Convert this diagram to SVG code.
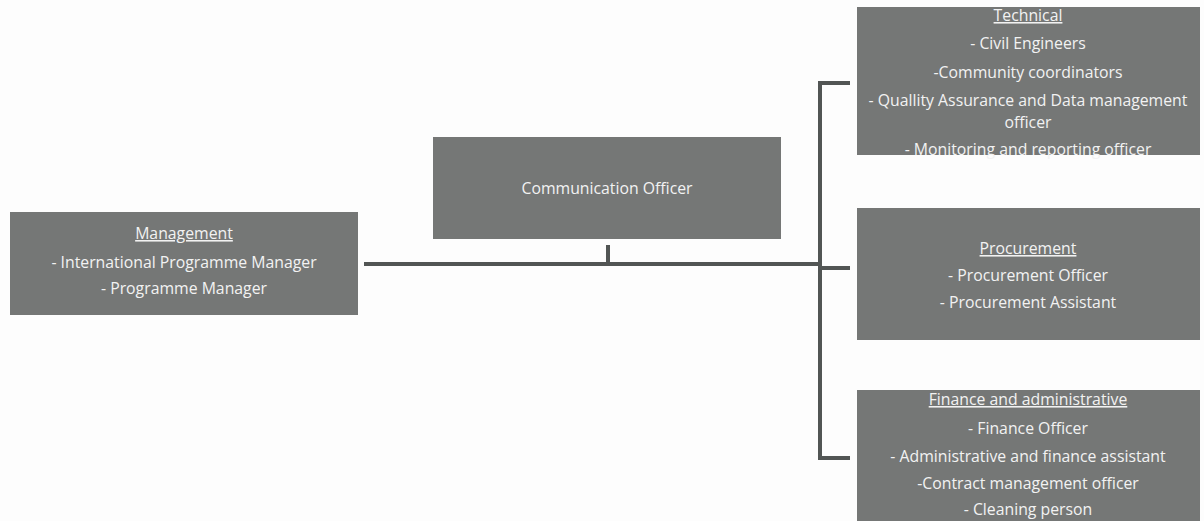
<svg xmlns="http://www.w3.org/2000/svg" width="1204" height="521" viewBox="0 0 1204 521">
<style>
.box{fill:#757776;}
.t{font-family:"Open Sans","Liberation Sans",sans-serif;font-size:15.8px;fill:#f2f2f2;text-anchor:middle;}
.h{text-decoration:underline;}
.ln{stroke:#525554;stroke-width:4;fill:none;stroke-linecap:butt;}
</style>
<rect width="1204" height="521" fill="#fdfdfd"/>
<g id="connectors">
<path class="ln" d="M364 264 H820"/>
<path class="ln" d="M608 245 V264"/>
<path class="ln" d="M850 83 H820 V458 H850"/>
<path class="ln" d="M820 268 H850"/>
</g>
<g id="management">
<rect class="box" x="10" y="212" width="348" height="103"/>
<text class="t h" x="184" y="239">Management</text>
<text class="t" x="184" y="268">- International Programme Manager</text>
<text class="t" x="184" y="294">- Programme Manager</text>
</g>
<g id="communication">
<rect class="box" x="433" y="137" width="348" height="102"/>
<text class="t" x="607" y="194">Communication Officer</text>
</g>
<g id="technical">
<rect class="box" x="857" y="7" width="343" height="148"/>
<text class="t h" x="1028" y="21">Technical</text>
<text class="t" x="1028" y="49">- Civil Engineers</text>
<text class="t" x="1028" y="78">-Community coordinators</text>
<text class="t" x="1028" y="106">- Quallity Assurance and Data management</text>
<text class="t" x="1028" y="128">officer</text>
<text class="t" x="1028" y="155">- Monitoring and reporting officer</text>
</g>
<g id="procurement">
<rect class="box" x="857" y="208" width="343" height="132"/>
<text class="t h" x="1028" y="254">Procurement</text>
<text class="t" x="1028" y="281">- Procurement Officer</text>
<text class="t" x="1028" y="308">- Procurement Assistant</text>
</g>
<g id="finance">
<rect class="box" x="857" y="390" width="343" height="131"/>
<text class="t h" x="1028" y="405">Finance and administrative</text>
<text class="t" x="1028" y="434">- Finance Officer</text>
<text class="t" x="1028" y="462">- Administrative and finance assistant</text>
<text class="t" x="1028" y="489">-Contract management officer</text>
<text class="t" x="1028" y="515">- Cleaning person</text>
</g>
</svg>
